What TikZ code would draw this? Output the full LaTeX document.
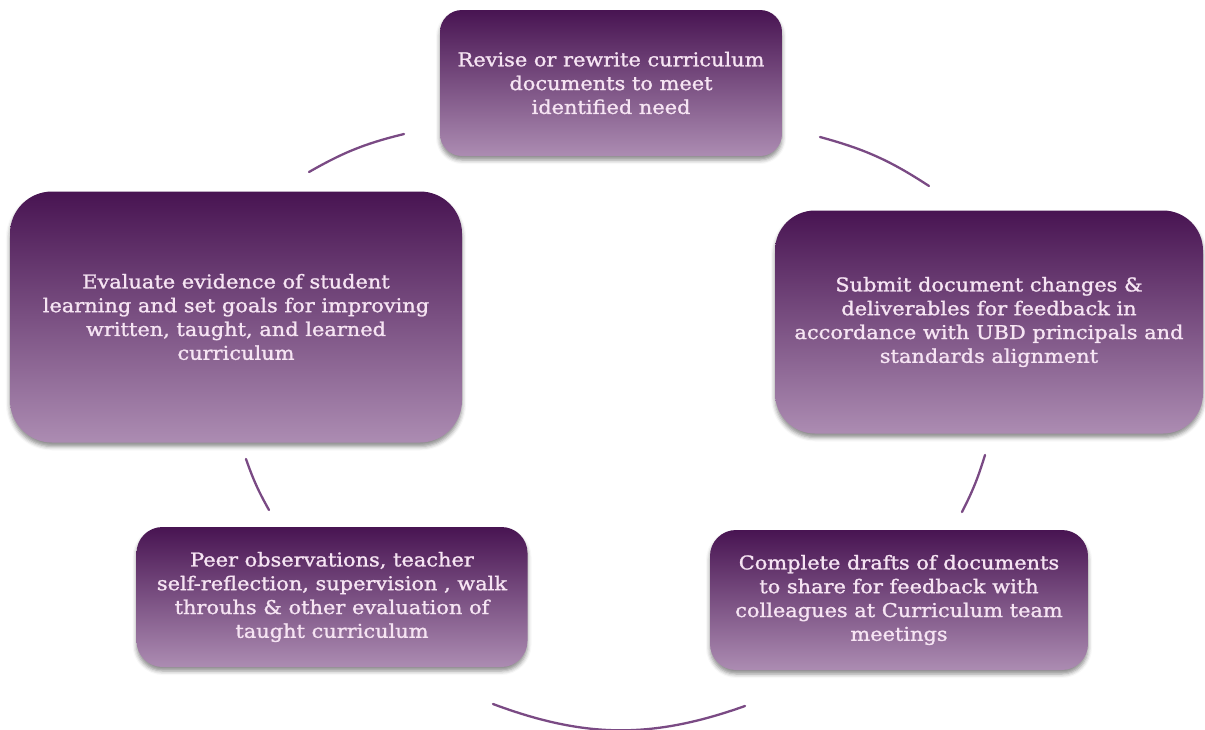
\documentclass[tikz,border=0pt]{standalone}
\usepackage{fontspec}
\setmainfont[FakeStretch=1.1, FakeBold=1.3]{DejaVu Serif}
\usetikzlibrary{shadows.blur}

\definecolor{boxtop}{RGB}{72,20,82}
\definecolor{boxbot}{RGB}{172,140,178}
\definecolor{arccol}{RGB}{122,74,132}
\definecolor{txt}{RGB}{246,228,243}

\begin{document}
\begin{tikzpicture}[x=1pt,y=-1pt,
  stage/.style={top color=boxtop, bottom color=boxbot, draw=none,
    text=txt, align=center, inner sep=0pt,
    font=\fontsize{19}{23.8}\selectfont,
    blur shadow={shadow xshift=0pt, shadow yshift=-4pt,
      shadow blur radius=4pt, shadow opacity=45}},
  cyc/.style={draw=arccol, line width=2.3pt, line cap=round}]

\useasboundingbox (0,0) rectangle (1205,729);

% the five stages of the cycle
\node[stage, rounded corners=22pt, minimum width=342pt, minimum height=146pt]
  (revise) at (611,83)
  {Revise or rewrite curriculum\\documents to meet\\identified need};
\node[stage, rounded corners=40pt, minimum width=428pt, minimum height=223pt]
  (submit) at (989,322)
  {Submit document changes \&\\deliverables for feedback in\\accordance with UBD principals and\\standards alignment};
\node[stage, rounded corners=26pt, minimum width=378pt, minimum height=140pt]
  (drafts) at (899,600)
  {Complete drafts of documents\\to share for feedback with\\colleagues at Curriculum team\\meetings};
\node[stage, rounded corners=26pt, minimum width=391pt, minimum height=140pt]
  (peer) at (332,597)
  {Peer observations, teacher\\self-reflection, supervision , walk\\throuhs \& other evaluation of\\taught curriculum};
\node[stage, rounded corners=42pt, minimum width=452pt, minimum height=251pt]
  (evaluate) at (236,317)
  {Evaluate evidence of student\\learning and set goals for improving\\written, taught, and learned\\curriculum};

% arc segments of the cycle, running clockwise
\coordinate (a1s) at (309,172);  \coordinate (a1e) at (404,134);
\coordinate (a2s) at (820,137);  \coordinate (a2e) at (929,186);
\coordinate (a3s) at (985,455);  \coordinate (a3e) at (962,512);
\coordinate (a4s) at (745,706);  \coordinate (a4e) at (493,704);
\coordinate (a5s) at (269,510);  \coordinate (a5e) at (246,459);

\draw[cyc] (a1s) to[bend left=8] (a1e);
\draw[cyc] (a2s) to[bend left=9] (a2e);
\draw[cyc] (a3s) to[bend left=5] (a3e);
\draw[cyc] (a4s) to[bend left=20] (a4e);
\draw[cyc] (a5s) to[bend left=5] (a5e);
\end{tikzpicture}
\end{document}
